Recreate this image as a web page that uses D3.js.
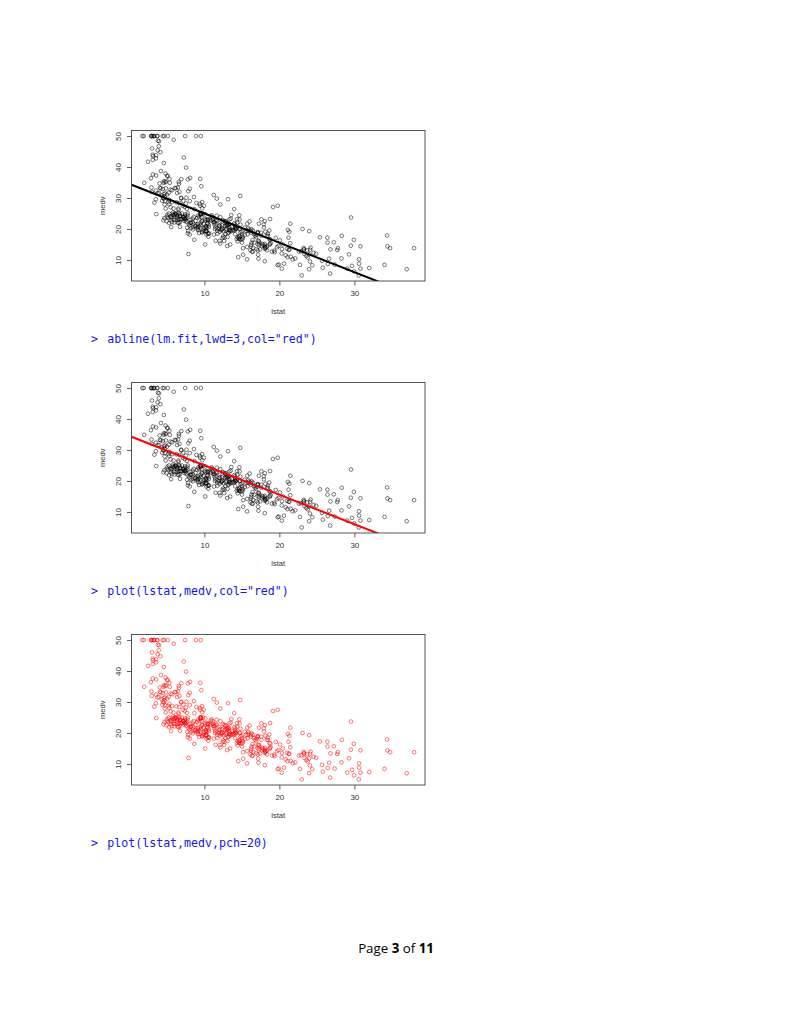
<!DOCTYPE html>
<html>
<head>
<meta charset="utf-8">
<script src="https://cdn.jsdelivr.net/npm/d3@7"></script>
<style>
  html, body { margin: 0; padding: 0; background: #fff; }
  svg { display: block; }
</style>
</head>
<body>
<svg id="page" width="791" height="1024"></svg>
<script>
// Boston data: lstat (x) and medv (y)
const lstat = [
  4.98, 9.14, 4.03, 2.94, 5.33, 5.21, 12.43, 19.15, 29.93, 17.10,
  20.45, 13.27, 15.71, 8.26, 10.26, 8.47, 6.58, 14.67, 11.69, 11.28,
  21.02, 13.83, 18.72, 19.88, 16.30, 16.51, 14.81, 17.28, 12.80, 11.98,
  22.60, 13.04, 27.71, 18.35, 20.34, 9.68, 11.41, 8.77, 10.13, 4.32,
  1.98, 4.84, 5.81, 7.44, 9.55, 10.21, 14.15, 18.80, 30.81, 16.20,
  13.45, 9.43, 5.28, 8.43, 14.80, 4.81, 5.77, 3.95, 6.86, 9.22,
  13.15, 14.44, 6.73, 9.50, 8.05, 4.67, 10.24, 8.10, 13.09, 8.79,
  6.72, 9.88, 5.52, 7.54, 6.78, 8.94, 11.97, 10.27, 12.34, 9.10,
  5.29, 7.22, 6.72, 7.51, 9.62, 6.53, 12.86, 8.44, 5.50, 5.70,
  8.81, 8.20, 8.16, 6.21, 10.59, 6.65, 11.34, 4.21, 3.57, 6.19,
  9.42, 7.67, 10.63, 13.44, 12.33, 16.47, 18.66, 14.09, 12.27, 15.55,
  13.00, 10.16, 16.21, 17.09, 10.45, 15.76, 12.04, 10.30, 15.37, 13.61,
  14.37, 14.27, 17.93, 25.41, 17.58, 14.81, 27.26, 17.19, 15.39, 18.34,
  12.60, 12.26, 11.12, 15.03, 17.31, 16.96, 16.90, 14.59, 21.32, 18.46,
  24.16, 34.41, 26.82, 26.42, 29.29, 27.80, 16.65, 29.53, 28.32, 21.45,
  14.10, 13.28, 12.12, 15.79, 15.12, 15.02, 16.14, 4.59, 6.43, 7.39,
  5.50, 1.73, 1.92, 3.32, 11.64, 9.81, 3.70, 12.14, 11.10, 11.32,
  14.43, 12.03, 14.69, 9.04, 9.64, 5.33, 10.11, 6.29, 6.92, 5.04,
  7.56, 9.45, 4.82, 5.68, 13.98, 13.15, 4.45, 6.68, 4.56, 5.39,
  5.10, 4.69, 2.87, 5.03, 4.38, 2.97, 4.08, 8.61, 6.62, 4.56,
  4.45, 7.43, 3.11, 3.81, 2.88, 10.87, 10.97, 18.06, 14.66, 23.09,
  17.27, 23.98, 16.03, 9.38, 29.55, 9.47, 13.51, 9.69, 17.92, 10.50,
  9.71, 21.46, 9.93, 7.60, 4.14, 4.63, 3.13, 6.36, 3.92, 3.76,
  11.65, 5.25, 2.47, 3.95, 8.05, 10.88, 9.54, 4.73, 6.36, 7.37,
  11.38, 12.40, 11.22, 5.19, 12.50, 18.46, 9.16, 10.15, 9.52, 6.56,
  5.90, 3.59, 3.53, 3.54, 6.57, 9.25, 3.11, 5.12, 7.79, 6.90,
  9.59, 7.26, 5.91, 11.25, 8.10, 10.45, 14.79, 7.44, 3.16, 13.65,
  13.00, 6.59, 7.73, 6.58, 3.53, 2.98, 6.05, 4.16, 7.19, 4.85,
  3.76, 4.59, 3.01, 3.16, 7.85, 8.23, 12.93, 7.14, 7.60, 9.51,
  3.33, 3.56, 4.70, 8.58, 10.40, 6.27, 7.39, 15.84, 4.97, 4.74,
  6.07, 9.50, 8.67, 4.86, 6.93, 8.93, 6.47, 7.53, 4.54, 9.97,
  12.64, 5.98, 11.72, 7.90, 9.28, 11.50, 18.33, 15.94, 10.36, 12.73,
  7.20, 6.87, 7.70, 11.74, 6.12, 5.08, 6.15, 12.79, 9.97, 7.34,
  9.09, 12.43, 7.83, 5.68, 6.75, 8.01, 9.80, 10.56, 8.51, 9.74,
  9.29, 5.49, 8.65, 7.18, 4.61, 10.53, 12.67, 6.36, 5.99, 5.89,
  5.98, 5.49, 7.79, 4.50, 8.05, 5.57, 17.60, 13.27, 11.48, 12.67,
  7.79, 14.19, 10.19, 14.64, 5.29, 7.12, 14.00, 13.33, 3.26, 3.73,
  2.96, 9.53, 8.88, 34.77, 37.97, 13.44, 23.24, 21.24, 23.69, 21.78,
  17.21, 21.08, 23.60, 24.56, 30.63, 30.81, 28.28, 31.99, 30.62, 20.85,
  17.11, 18.76, 25.68, 15.17, 16.35, 17.12, 19.37, 19.92, 30.59, 29.97,
  26.77, 20.32, 20.31, 19.77, 27.38, 22.98, 23.34, 12.13, 26.40, 19.78,
  10.11, 21.22, 34.37, 20.08, 36.98, 29.05, 25.79, 26.64, 20.62, 22.74,
  15.02, 15.70, 14.10, 23.29, 17.16, 24.39, 15.69, 14.52, 21.52, 24.08,
  17.64, 19.69, 12.03, 16.22, 15.17, 23.27, 18.05, 26.45, 34.02, 22.88,
  22.11, 19.52, 16.59, 18.85, 23.79, 23.98, 17.79, 16.44, 18.13, 19.31,
  17.44, 17.73, 17.27, 16.74, 18.71, 18.13, 19.01, 16.94, 16.23, 14.70,
  16.42, 14.65, 13.99, 10.29, 13.22, 14.13, 17.15, 21.32, 18.13, 14.76,
  16.29, 12.87, 14.36, 11.66, 18.14, 24.10, 18.68, 24.91, 18.03, 13.11,
  10.74, 7.74, 7.01, 10.42, 13.34, 10.58, 14.98, 11.45, 18.06, 23.97,
  29.68, 18.07, 13.35, 12.01, 13.59, 17.60, 21.14, 14.10, 12.92, 15.10,
  14.33, 9.67, 9.08, 5.64, 6.48, 7.88
];

const medv = [
  24.0, 21.6, 34.7, 33.4, 36.2, 28.7, 22.9, 27.1, 16.5, 18.9,
  15.0, 18.9, 21.7, 20.4, 18.2, 19.9, 23.1, 17.5, 20.2, 18.2,
  13.6, 19.6, 15.2, 14.5, 15.6, 13.9, 16.6, 14.8, 18.4, 21.0,
  12.7, 14.5, 13.2, 13.1, 13.5, 18.9, 20.0, 21.0, 24.7, 30.8,
  34.9, 26.6, 25.3, 24.7, 21.2, 19.3, 20.0, 16.6, 14.4, 19.4,
  19.7, 20.5, 25.0, 23.4, 18.9, 35.4, 24.7, 31.6, 23.3, 19.6,
  18.7, 16.0, 22.2, 25.0, 33.0, 23.5, 19.4, 22.0, 17.4, 20.9,
  24.2, 21.7, 22.8, 23.4, 24.1, 21.4, 20.0, 20.8, 21.2, 20.3,
  28.0, 23.9, 24.8, 22.9, 23.9, 26.6, 22.5, 22.2, 23.6, 28.7,
  22.6, 22.0, 22.9, 25.0, 20.6, 28.4, 21.4, 38.7, 43.8, 33.2,
  27.5, 26.5, 18.6, 19.3, 20.1, 19.5, 19.5, 20.4, 19.8, 19.4,
  21.7, 22.8, 18.8, 18.7, 18.5, 18.3, 21.2, 19.2, 20.4, 19.3,
  22.0, 20.3, 20.5, 17.3, 18.8, 21.4, 15.7, 16.2, 18.0, 14.3,
  19.2, 19.6, 23.0, 18.4, 15.6, 18.1, 17.4, 17.1, 13.3, 17.8,
  14.0, 14.4, 13.4, 15.6, 11.8, 13.8, 15.6, 14.6, 17.8, 15.4,
  21.5, 19.6, 15.3, 19.4, 17.0, 15.6, 13.1, 41.3, 24.3, 23.3,
  27.0, 50.0, 50.0, 50.0, 22.7, 25.0, 50.0, 23.8, 23.8, 22.3,
  17.4, 19.1, 23.1, 23.6, 22.6, 29.4, 23.2, 24.6, 29.9, 37.2,
  39.8, 36.2, 37.9, 32.5, 26.4, 29.6, 50.0, 32.0, 29.8, 34.9,
  37.0, 30.5, 36.4, 31.1, 29.1, 50.0, 33.3, 30.3, 34.6, 34.9,
  32.9, 24.1, 42.3, 48.5, 50.0, 22.6, 24.4, 22.5, 24.4, 20.0,
  21.7, 19.3, 22.4, 28.1, 23.7, 25.0, 23.3, 28.7, 21.5, 23.0,
  26.7, 21.7, 27.5, 30.1, 44.8, 50.0, 37.6, 31.6, 46.7, 31.5,
  24.3, 31.7, 41.7, 48.3, 29.0, 24.0, 25.1, 31.5, 23.7, 23.3,
  22.0, 20.1, 22.2, 23.7, 17.6, 18.5, 24.3, 20.5, 24.5, 26.2,
  24.4, 24.8, 29.6, 42.8, 21.9, 20.9, 44.0, 50.0, 36.0, 30.1,
  33.8, 43.1, 48.8, 31.0, 36.5, 22.8, 30.7, 50.0, 43.5, 20.7,
  21.1, 25.2, 24.4, 35.2, 32.4, 32.0, 33.2, 33.1, 29.1, 35.1,
  45.4, 35.4, 46.0, 50.0, 32.2, 22.0, 20.1, 23.2, 22.3, 24.8,
  28.5, 37.3, 27.9, 23.9, 21.7, 28.6, 27.1, 20.3, 22.5, 29.0,
  24.8, 22.0, 26.4, 33.1, 36.1, 28.4, 33.4, 28.2, 22.8, 20.3,
  16.1, 22.1, 19.4, 21.6, 23.8, 16.2, 17.8, 19.8, 23.1, 21.0,
  23.8, 23.1, 20.4, 18.5, 25.0, 24.6, 23.0, 22.2, 19.3, 22.6,
  19.8, 17.1, 19.4, 22.2, 20.7, 21.1, 19.5, 18.5, 20.6, 19.0,
  18.7, 32.7, 16.5, 23.9, 31.2, 17.5, 17.2, 23.1, 24.5, 26.6,
  22.9, 24.1, 18.6, 30.1, 18.2, 20.6, 17.8, 21.7, 22.7, 22.6,
  25.0, 19.9, 20.8, 16.8, 21.9, 27.5, 21.9, 23.1, 50.0, 50.0,
  50.0, 50.0, 50.0, 13.8, 13.8, 15.0, 13.9, 13.3, 13.1, 10.2,
  10.4, 10.9, 11.3, 12.3, 8.8, 7.2, 10.5, 7.4, 10.2, 11.5,
  15.1, 23.2, 9.7, 13.8, 12.7, 13.1, 12.5, 8.5, 5.0, 6.3,
  5.6, 7.2, 12.1, 8.3, 8.5, 5.0, 11.9, 27.9, 17.2, 27.5,
  15.0, 17.2, 17.9, 16.3, 7.0, 7.2, 7.5, 10.4, 8.8, 8.4,
  16.7, 14.2, 20.8, 13.4, 11.7, 8.3, 10.2, 10.9, 11.0, 9.5,
  14.5, 14.1, 16.1, 14.3, 11.7, 13.4, 9.6, 8.7, 8.4, 12.8,
  10.5, 17.1, 18.4, 15.4, 10.8, 11.8, 14.9, 12.6, 14.1, 13.0,
  13.4, 15.2, 16.1, 17.8, 14.9, 14.1, 12.7, 13.5, 14.9, 20.0,
  16.4, 17.7, 19.5, 20.2, 21.4, 19.9, 19.0, 19.1, 19.1, 20.1,
  19.9, 19.6, 23.2, 29.8, 13.8, 13.3, 16.7, 12.0, 14.6, 21.4,
  23.0, 23.7, 25.0, 21.8, 20.6, 21.2, 19.1, 20.6, 15.2, 7.0,
  8.1, 13.6, 20.1, 21.8, 24.5, 23.1, 19.7, 18.3, 21.2, 17.5,
  16.8, 22.4, 20.6, 23.9, 22.0, 11.9
];

// lm(medv ~ lstat): intercept, slope
const fitCoef = [34.5538, -0.9500];

const xTicks = [10, 20, 30];
const yTicks = [10, 20, 30, 40, 50];

const codeLines = [
  'abline(lm.fit,lwd=3,col="red")',
  'plot(lstat,medv,col="red")',
  'plot(lstat,medv,pch=20)'
];

// per panel: point colour, fitted line colour (null = no line)
const panelPointColor = ["#000000", "#000000", "#ff0000"];
const panelLineColor = ["#000000", "#ff0000", null];

const svg = d3.select("#page");

const points = lstat.map((x, i) => ({ x, y: medv[i] }));

// R default axis range: data range extended by 4%
function rRange(ext) {
  const d = (ext[1] - ext[0]) * 0.04;
  return [ext[0] - d, ext[1] + d];
}

const box = { left: 131.5, right: 425, h: 150.5 };
const panelTop = [130.5, 382.5, 634.5];
const axisFont = "Liberation Sans, Arial, sans-serif";

function drawPanel(i) {
  const top = panelTop[i];
  const bottom = top + box.h;
  const g = svg.append("g");

  const x = d3.scaleLinear()
    .domain(rRange(d3.extent(lstat)))
    .range([box.left, box.right]);

  const y = d3.scaleLinear()
    .domain(rRange(d3.extent(medv)))
    .range([bottom, top]);

  // clip for the fitted line
  svg.append("defs").append("clipPath")
    .attr("id", "clip" + i)
    .append("rect")
    .attr("x", box.left).attr("y", top)
    .attr("width", box.right - box.left).attr("height", box.h);

  // points (pch = 1)
  g.append("g")
    .selectAll("circle")
    .data(points)
    .enter()
    .append("circle")
    .attr("cx", d => x(d.x))
    .attr("cy", d => y(d.y))
    .attr("r", 1.85)
    .attr("fill", "none")
    .attr("stroke", panelPointColor[i])
    .attr("stroke-opacity", 0.8)
    .attr("stroke-width", 0.65);

  // fitted line
  if (panelLineColor[i]) {
    const xd = x.domain();
    const fit = v => fitCoef[0] + fitCoef[1] * v;
    g.append("line")
      .attr("clip-path", `url(#clip${i})`)
      .attr("x1", x(xd[0])).attr("y1", y(fit(xd[0])))
      .attr("x2", x(xd[1])).attr("y2", y(fit(xd[1])))
      .attr("stroke", panelLineColor[i])
      .attr("stroke-width", 2);
  }

  // axes
  const ax = g.append("g")
    .attr("transform", `translate(0,${bottom})`)
    .call(d3.axisBottom(x).tickValues(xTicks).tickSize(4.5).tickPadding(5));
  const ay = g.append("g")
    .attr("transform", `translate(${box.left},0)`)
    .call(d3.axisLeft(y).tickValues(yTicks).tickSize(4.5).tickPadding(5));

  [ax, ay].forEach(a => {
    a.select(".domain").remove();
    a.selectAll(".tick line").attr("stroke", "#333").attr("stroke-width", 0.8);
    a.selectAll(".tick text")
      .attr("fill", "#333")
      .attr("font-family", axisFont)
      .attr("font-size", 8);
  });

  // y tick labels are vertical in R
  ay.selectAll(".tick text")
    .attr("x", null).attr("dy", null)
    .attr("text-anchor", "middle")
    .attr("transform", "translate(-13.5,0) rotate(-90)")
    .attr("dy", "0.35em");

  // box
  g.append("rect")
    .attr("x", box.left).attr("y", top)
    .attr("width", box.right - box.left).attr("height", box.h)
    .attr("fill", "none")
    .attr("stroke", "#444")
    .attr("stroke-width", 0.9);

  // axis titles
  g.append("text")
    .attr("x", (box.left + box.right) / 2)
    .attr("y", bottom + 33)
    .attr("text-anchor", "middle")
    .attr("font-family", axisFont)
    .attr("font-size", 7.5)
    .attr("fill", "#333")
    .text("lstat");

  g.append("text")
    .attr("transform", `translate(${box.left - 29},${(top + bottom) / 2}) rotate(-90)`)
    .attr("text-anchor", "middle")
    .attr("dy", "0.35em")
    .attr("font-family", axisFont)
    .attr("font-size", 7.5)
    .attr("fill", "#333")
    .text("medv");

  // R console line below the plot
  const code = svg.append("g")
    .attr("font-family", "DejaVu Sans Mono, monospace")
    .attr("font-size", 11.6)
    .attr("fill", "#1515e8");
  code.append("text")
    .attr("x", 91).attr("y", bottom + 61.5)
    .text(">");
  code.append("text")
    .attr("x", 107.3).attr("y", bottom + 61.5)
    .text(codeLines[i]);
}

[0, 1, 2].forEach(drawPanel);

// footer
const footer = svg.append("text")
  .attr("x", 396)
  .attr("y", 953)
  .attr("text-anchor", "middle")
  .attr("font-family", "Open Sans, Liberation Sans, sans-serif")
  .attr("font-size", 13.3)
  .attr("fill", "#000");
footer.append("tspan").text("Page ");
footer.append("tspan").attr("font-weight", "bold").text("3");
footer.append("tspan").text(" of ");
footer.append("tspan").attr("font-weight", "bold").text("11");
</script>
</body>
</html>
